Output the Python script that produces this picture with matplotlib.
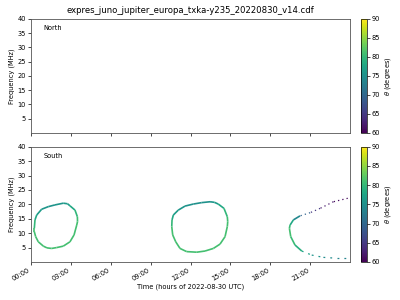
import numpy as np
import matplotlib
matplotlib.use("Agg")
import matplotlib.pyplot as plt
from matplotlib.collections import LineCollection
from matplotlib.colors import Normalize

title = "expres_juno_jupiter_europa_txka-y235_20220830_v14.cdf"
xticks_h = [0, 3, 6, 9, 12, 15, 18, 21]
yticks = [5, 10, 15, 20, 25, 30, 35, 40]
cbar_ticks = [60, 65, 70, 75, 80, 85, 90]

# South hemisphere emission: time (h), frequency (MHz), theta (deg)
loop1_t = [0.30, 0.43, 0.80, 1.30, 1.80, 2.43, 2.75, 2.93, 3.31, 3.49, 3.50, 3.44, 3.24, 2.93,
           2.43, 1.93, 1.55, 1.20, 0.93, 0.55, 0.35, 0.25, 0.25, 0.30]
loop1_f = [14.6, 16.3, 18.3, 19.2, 19.8, 20.4, 20.2, 19.5, 18.0, 15.7, 14.0, 12.8, 9.4, 7.0,
           5.5, 5.0, 4.7, 4.9, 5.5, 7.0, 8.8, 10.5, 11.7, 14.6]
loop1_th = [79, 77, 76, 75.5, 75.5, 76, 76.5, 77, 79, 80.5, 81, 81, 81, 81,
            81, 81, 81, 81, 81, 81, 81, 81, 81, 79]

loop2_t = [10.61, 10.71, 11.08, 11.59, 12.21, 12.84, 13.47, 13.80, 14.09, 14.52, 14.77, 14.80, 14.77,
           14.60, 14.22, 13.72, 13.09, 12.47, 11.71, 11.21, 10.89, 10.66, 10.59, 10.61]
loop2_f = [14.6, 16.3, 18.0, 19.4, 20.1, 20.6, 20.9, 20.7, 20.1, 18.6, 15.7, 14.0, 12.3,
           8.8, 6.2, 4.7, 3.8, 3.4, 3.6, 4.7, 7.0, 9.4, 12.3, 14.6]
loop2_th = [79, 77, 76, 75.5, 75, 75, 75.5, 76, 77, 79, 80.5, 81, 81,
            81, 81, 81, 81, 81, 81, 81, 81, 81, 81, 79]

loop3_t = [23.83, 22.75, 21.75, 21.00, 20.24, 19.74, 19.49, 19.44, 19.54, 19.86,
           20.37, 21.12, 22.00, 23.00, 23.88]
loop3_f = [22.1, 20.9, 18.6, 17.1, 16.0, 14.6, 12.8, 11.7, 8.8, 5.9,
           3.8, 2.4, 1.6, 1.3, 1.3]
loop3_th = [60.5, 61, 63, 67, 72, 76, 80, 81, 81, 80,
            78, 76, 75, 74, 73]

fig = plt.figure(figsize=(4, 3), dpi=100)
ax_n = fig.add_axes([0.0775, 0.5567, 0.7975, 0.38])
ax_s = fig.add_axes([0.0775, 0.1267, 0.7975, 0.3843], sharex=ax_n)
cax_n = fig.add_axes([0.9025, 0.5567, 0.015, 0.38])
cax_s = fig.add_axes([0.9025, 0.1267, 0.015, 0.3843])

cmap = plt.get_cmap("viridis")
norm = Normalize(60, 90)


def draw(ax, t, f, th, lw=1.2, ls="solid"):
    pts = np.column_stack([t, f])
    segs = np.stack([pts[:-1], pts[1:]], axis=1)
    vals = 0.5 * (np.array(th[:-1]) + np.array(th[1:]))
    lc = LineCollection(segs, cmap=cmap, norm=norm, linewidths=lw,
                        linestyles=ls, capstyle="butt")
    lc.set_array(vals)
    ax.add_collection(lc)
    return lc


draw(ax_s, loop1_t, loop1_f, loop1_th)
draw(ax_s, loop2_t, loop2_f, loop2_th)
draw(ax_s, loop3_t[:5], loop3_f[:5], loop3_th[:5], lw=0.9, ls=(0, (1, 2.5)))
draw(ax_s, loop3_t[4:11], loop3_f[4:11], loop3_th[4:11])
draw(ax_s, loop3_t[10:], loop3_f[10:], loop3_th[10:], lw=0.9, ls=(0, (1.5, 4)))

fs_tick = 4.8
for ax, lab in ((ax_n, "North"), (ax_s, "South")):
    ax.set_xlim(0, 24)
    ax.set_ylim(0, 40)
    ax.set_yticks(yticks)
    ax.set_xticks(xticks_h)
    ax.set_ylabel("Frequency (MHz)", fontsize=fs_tick, labelpad=2)
    ax.tick_params(labelsize=fs_tick, length=2, width=0.5, pad=1.5)
    ax.text(0.04, 0.9, lab, transform=ax.transAxes, fontsize=fs_tick)
    for s in ax.spines.values():
        s.set_linewidth(0.6)
        s.set_color("#555555")

ax_n.tick_params(labelbottom=False)
ax_s.set_xticklabels([f"{h:02d}:00" for h in xticks_h], rotation=30, ha="right")
ax_s.set_xlabel("Time (hours of 2022-08-30 UTC)", fontsize=fs_tick, labelpad=1)
ax_n.set_title(title, fontsize=6.1, pad=4)

sm = matplotlib.cm.ScalarMappable(norm=norm, cmap=cmap)
for cax in (cax_n, cax_s):
    cb = fig.colorbar(sm, cax=cax, ticks=cbar_ticks)
    cb.set_label(r"$\theta$ (degrees)", fontsize=fs_tick, labelpad=2)
    cax.tick_params(labelsize=fs_tick, length=2, width=0.5, pad=1.5)
    cb.outline.set_linewidth(0.5)

fig.savefig("out.png", dpi=100)
